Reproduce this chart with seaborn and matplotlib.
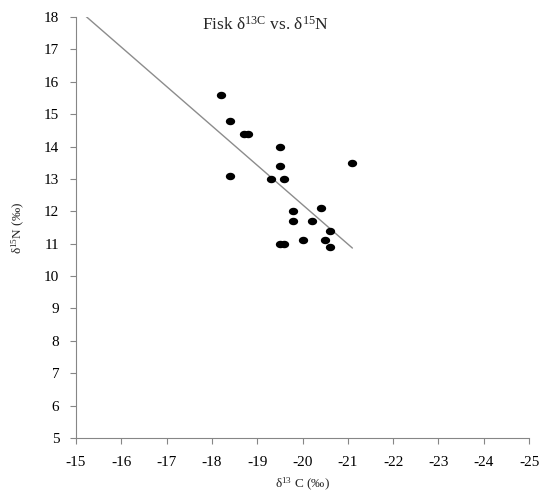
import numpy as np
import pandas as pd
import matplotlib
matplotlib.use('Agg')
import matplotlib.pyplot as plt
import seaborn as sns

# d13C / d15N values
d13c = [-18.2, -18.4, -18.7, -18.8, -19.5, -21.1, -19.5, -18.4, -19.3, -19.6,
        -19.8, -20.4, -19.8, -20.2, -20.6, -19.5, -19.6, -20.0, -20.5, -20.6]
d15n = [15.6, 14.8, 14.4, 14.4, 14.0, 13.5, 13.4, 13.1, 13.0, 13.0,
        12.0, 12.1, 11.7, 11.7, 11.4, 11.0, 11.0, 11.1, 11.1, 10.9]
x_ticks = list(range(-15, -26, -1))
y_ticks = list(range(5, 19))
forecast_back = 3.0  # trendline extended past the data

df = pd.DataFrame({'d13C': d13c, 'd15N': d15n})

sns.set_style('ticks')
plt.rcParams['font.family'] = ['Liberation Serif', 'DejaVu Serif']
plt.rcParams['mathtext.fontset'] = 'custom'
plt.rcParams['mathtext.rm'] = 'Liberation Serif'
plt.rcParams['mathtext.it'] = 'Liberation Serif'
plt.rcParams['axes.unicode_minus'] = False

fig = plt.figure(figsize=(5.41, 4.92), dpi=100)
ax = fig.add_axes([0.1405, 0.1098, 0.978 - 0.1405, 0.9654 - 0.1098])

# linear trendline
slope, icpt = np.polyfit(df['d13C'], df['d15N'], 1)
lx = np.array([df['d13C'].max() + forecast_back, df['d13C'].min()])
ax.plot(lx, slope * lx + icpt, color='#8c8c8c', lw=1.0, zorder=1)

# slightly wide elliptical dot like the original
t = np.linspace(0, 2 * np.pi, 40)
ellipse = np.column_stack([1.25 * np.cos(t), np.sin(t)])
sns.scatterplot(data=df, x='d13C', y='d15N', ax=ax, color='black',
                marker=ellipse, s=45, edgecolor='black', linewidth=0, zorder=2)

ax.set_xlim(-15, -25)
ax.set_ylim(5, 18)
ax.set_xticks(x_ticks)
ax.set_yticks(y_ticks)
ax.tick_params(axis='both', direction='out', length=4, width=0.8,
               color='#868686', labelsize=11, labelcolor='black')
ax.tick_params(axis='x', pad=9)
ax.tick_params(axis='y', pad=8)
for side in ['top', 'right']:
    ax.spines[side].set_visible(False)
for side in ['left', 'bottom']:
    ax.spines[side].set_color('#868686')
    ax.spines[side].set_linewidth(0.8)

ax.set_xlabel('δ$^{13}$ C (‰)', fontsize=9.5, labelpad=5)
ax.set_ylabel('δ$^{15}$N (‰)', fontsize=9.5, labelpad=12)

fig.text(265 / 541, 1 - 25 / 492, 'Fisk δ$^{13C}$ vs. δ$^{15}$N',
         ha='center', va='center', fontsize=12.5)

fig.savefig('out.png', dpi=100)
